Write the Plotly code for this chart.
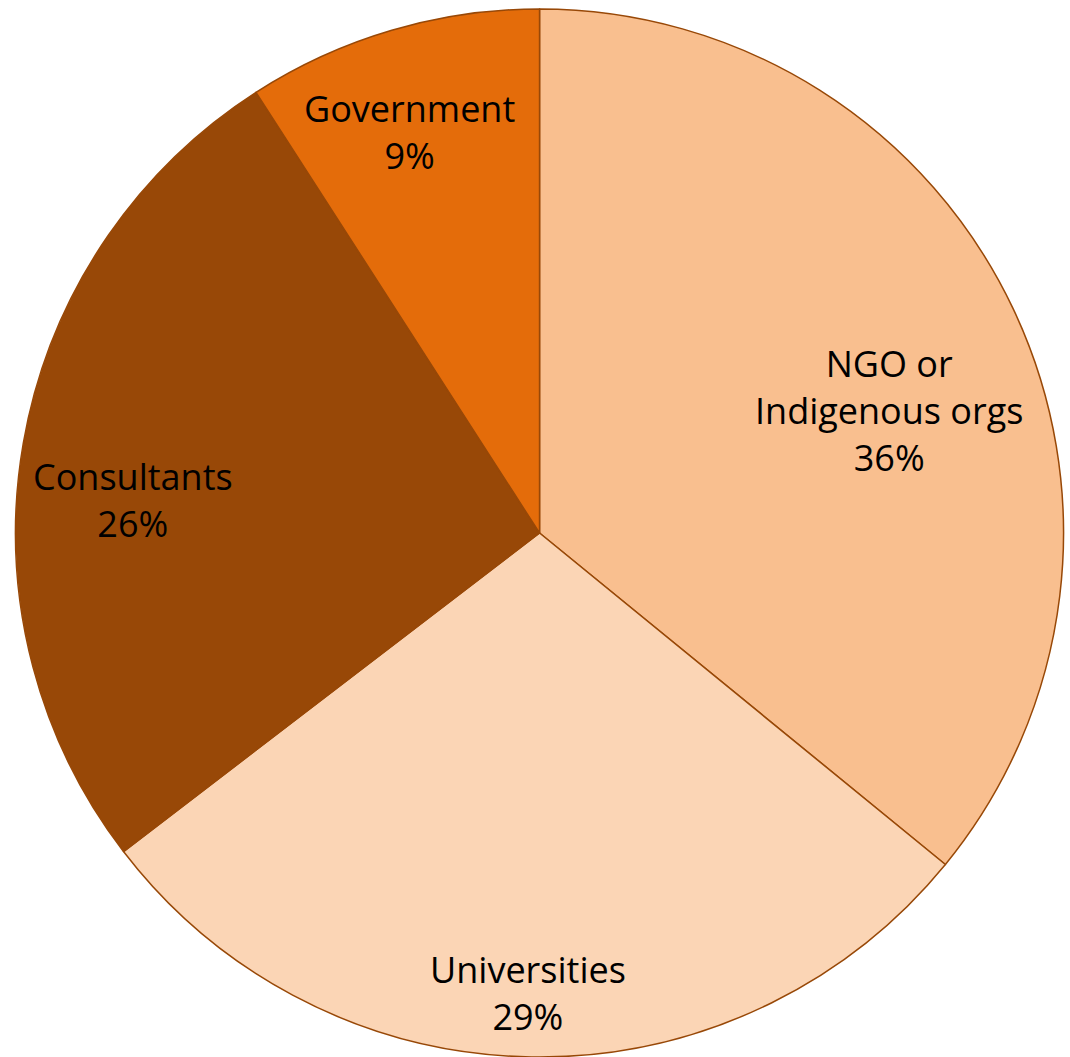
import math
import plotly.graph_objects as go

labels = ["NGO or<br>Indigenous orgs", "Universities", "Consultants", "Government"]
values = [35.9, 28.7, 26.3, 9.1]
colors = ["#F9BF8F", "#FBD5B5", "#984807", "#E46C0A"]

# label placement style (fraction of radius, angular nudge in degrees)
label_rfrac = [0.707, 0.878, 0.778, 0.805]
label_dang = [6.0, 0.5, -5.3, -1.6]

W, H = 1070, 1057
dom_x = [0.0122, 0.9963]
dom_y = [0.0, 0.9915]

fig = go.Figure(go.Pie(
    labels=labels,
    values=values,
    sort=False,
    direction="clockwise",
    rotation=0,
    marker=dict(colors=colors, line=dict(color="#984807", width=1.5)),
    textinfo="none",
    domain=dict(x=dom_x, y=dom_y),
    showlegend=False,
    hoverinfo="label+percent",
))

# pie geometry in pixels (derived from domain)
cx = W * (dom_x[0] + dom_x[1]) / 2
cy = H * (1 - (dom_y[0] + dom_y[1]) / 2)
R = min(W * (dom_x[1] - dom_x[0]), H * (dom_y[1] - dom_y[0])) / 2

total = sum(values)
cum = 0.0
for lab, v, rf, da in zip(labels, values, label_rfrac, label_dang):
    mid = (cum + v / 2) / total * 360 + da
    cum += v
    a = math.radians(mid)
    px = cx + rf * R * math.sin(a)
    py = cy - rf * R * math.cos(a)
    pct = round(v / total * 100)
    fig.add_annotation(
        x=px / W, y=1 - py / H, xref="paper", yref="paper",
        text=f"{lab}<br>{pct}%", showarrow=False,
        xanchor="center", yanchor="middle",
        font=dict(family="Open Sans, sans-serif", size=36, color="black"),
    )

fig.update_layout(
    width=W, height=H,
    margin=dict(l=0, r=0, t=0, b=0),
    paper_bgcolor="white",
)
fig.write_html("out.html")
